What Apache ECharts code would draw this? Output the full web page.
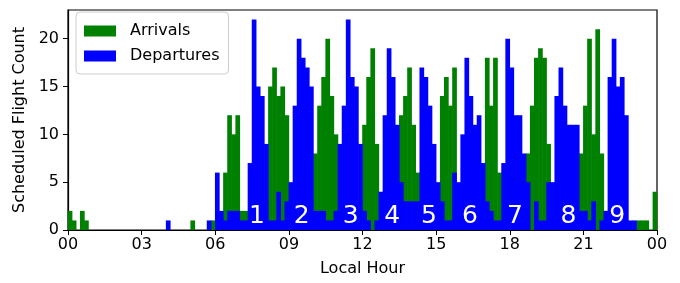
<!DOCTYPE html>
<html>
<head>
<meta charset="utf-8">
<script src="https://cdn.jsdelivr.net/npm/echarts@6/dist/echarts.min.js"></script>
<style>
  html, body { margin: 0; padding: 0; background: #fff; }
  #chart { width: 680px; height: 283px; }
</style>
</head>
<body>
<div id="chart"></div>
<script>
// 10-minute bins over the day, 144 per series
const binMinutes = 10

const arrivals = [
  2, 1, 0, 2, 1, 0, 0, 0, 0, 0, 0, 0,
  0, 0, 0, 0, 0, 0, 0, 0, 0, 0, 0, 0,
  0, 0, 0, 0, 0, 0, 1, 0, 0, 0, 0, 1,
  1, 1, 6, 12, 10, 12, 2, 2, 1, 1, 2, 2,
  3, 15, 17, 14, 15, 12, 2, 1, 1, 1, 2, 3,
  8, 13, 16, 20, 14, 10, 3, 1, 1, 1, 2, 3,
  11, 16, 19, 9, 2, 1, 1, 1, 2, 12, 14, 17,
  11, 6, 1, 1, 1, 2, 3, 14, 16, 13, 17, 3,
  2, 1, 1, 2, 2, 3, 18, 13, 18, 6, 3, 1,
  1, 2, 2, 3, 8, 13, 18, 19, 18, 9, 3, 2,
  1, 1, 2, 2, 3, 8, 13, 20, 10, 21, 8, 1,
  1, 1, 1, 1, 1, 0, 0, 1, 1, 1, 0, 4
]

const departures = [
  0, 0, 0, 0, 0, 0, 0, 0, 0, 0, 0, 0,
  0, 0, 0, 0, 0, 0, 0, 0, 0, 0, 0, 0,
  1, 0, 0, 0, 0, 0, 0, 0, 0, 0, 1, 0,
  6, 2, 1, 2, 2, 2, 1, 1, 7, 22, 15, 14,
  9, 1, 1, 4, 1, 3, 5, 13, 20, 18, 17, 15,
  2, 2, 2, 1, 1, 2, 9, 13, 22, 16, 15, 9,
  2, 1, 0, 1, 4, 12, 19, 16, 11, 5, 3, 3,
  3, 3, 17, 16, 13, 9, 5, 3, 1, 1, 6, 5,
  10, 18, 14, 11, 12, 7, 3, 2, 1, 1, 7, 20,
  17, 12, 12, 8, 5, 0, 3, 1, 1, 5, 5, 14,
  17, 13, 11, 11, 11, 2, 2, 1, 3, 0, 1, 2,
  16, 20, 15, 16, 12, 1, 1, 0, 0, 0, 0, 0
]

// bank numbers written along the bottom
const bankLabels = ['1', '2', '3', '4', '5', '6', '7', '8', '9']
const bankHours = [7.70, 9.52, 11.52, 13.21, 14.71, 16.38, 18.21, 20.39, 22.38]
const bankY = 1.4

const yTicks = [0, 5, 10, 15, 20]

const font = 'DejaVu Sans'

function binCenter(i) {
  return (i * binMinutes + binMinutes / 2) / 60
}

function pad(value) {
  return String(value).padStart(2, '0')
}

const chart = echarts.init(document.getElementById('chart'))

chart.setOption({
  animation: false,
  backgroundColor: '#fff',
  grid: {
    left: 68, right: 23, top: 10, bottom: 53,
    show: true, borderColor: '#000', borderWidth: 1.2, backgroundColor: 'transparent'
  },
  legend: {
    left: 76,
    top: 12,
    orient: 'vertical',
    padding: [10, 9, 9, 8],
    itemGap: 7,
    itemWidth: 32,
    itemHeight: 11,
    backgroundColor: '#fff',
    borderColor: '#ccc',
    borderWidth: 1,
    borderRadius: 4,
    icon: 'rect',
    textStyle: { fontFamily: font, fontSize: 16, lineHeight: 18, color: '#000', padding: [0, 0, 0, 9] },
    data: ['Arrivals', 'Departures']
  },
  xAxis: {
    type: 'value',
    min: 0,
    max: 24,
    interval: 3,
    name: 'Local Hour',
    nameLocation: 'middle',
    nameGap: 31,
    nameTextStyle: { fontFamily: font, fontSize: 16, color: '#000' },
    axisLine: { show: true, lineStyle: { color: '#000', width: 1.2 } },
    axisTick: { show: true, length: 5, lineStyle: { color: '#000' } },
    axisLabel: {
      fontFamily: font, fontSize: 16, color: '#000', margin: 7,
      formatter: (value) => pad(value % 24)
    },
    splitLine: { show: false }
  },
  yAxis: {
    type: 'value',
    min: 0,
    max: 23,
    name: 'Scheduled Flight Count',
    nameLocation: 'middle',
    nameGap: 35,
    nameTextStyle: { fontFamily: font, fontSize: 16, color: '#000' },
    axisLine: { show: true, lineStyle: { color: '#000', width: 1.2 } },
    axisTick: { show: true, length: 5, lineStyle: { color: '#000' }, customValues: yTicks },
    axisLabel: { fontFamily: font, fontSize: 16, color: '#000', margin: 9, customValues: yTicks },
    splitLine: { show: false }
  },
  series: [
    {
      name: 'Arrivals',
      type: 'bar',
      barGap: '-100%',
      barWidth: 4.7,
      itemStyle: { color: '#008000' },
      data: arrivals.map((v, i) => [binCenter(i), v])
    },
    {
      name: 'Departures',
      type: 'bar',
      barGap: '-100%',
      barWidth: 4.7,
      itemStyle: { color: '#0000ff' },
      data: departures.map((v, i) => [binCenter(i), v])
    },
    {
      name: 'banks',
      type: 'scatter',
      symbolSize: 1,
      itemStyle: { color: 'rgba(0,0,0,0)' },
      silent: true,
      z: 5,
      label: {
        show: true,
        position: 'inside',
        fontFamily: font,
        fontSize: 25,
        color: '#ffffff',
        opacity: 1,
        textBorderWidth: 0,
        textBorderColor: 'transparent',
        textShadowBlur: 0,
        formatter: (p) => bankLabels[p.dataIndex]
      },
      data: bankHours.map((h) => [h, bankY])
    }
  ]
})
</script>
</body>
</html>
